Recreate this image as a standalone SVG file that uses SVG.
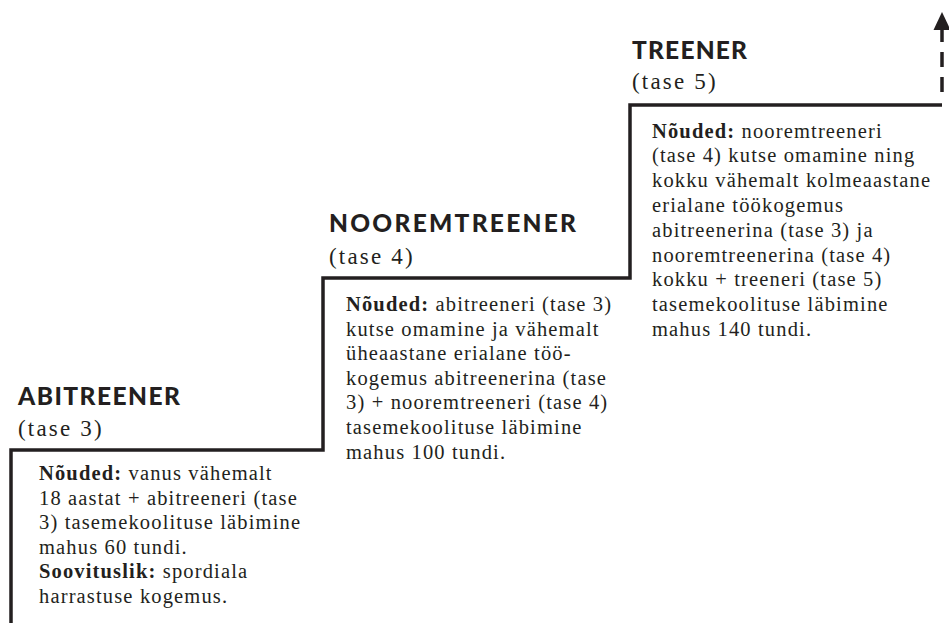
<svg xmlns="http://www.w3.org/2000/svg" width="949" height="623" viewBox="0 0 949 623">
<style>
.title{font-family:Lato,"Open Sans","DejaVu Sans",sans-serif;font-weight:900;font-size:24.5px;fill:#231f20}
.level{font-family:"Liberation Serif","Times New Roman",serif;font-size:23px;letter-spacing:2.2px;fill:#231f20}
.body{font-family:"Liberation Serif","Times New Roman",serif;font-size:20.5px;letter-spacing:1.15px;fill:#231f20}
.b{font-weight:700}
.stair{fill:none;stroke:#231f20;stroke-width:3.5;stroke-linejoin:miter}
</style>
<rect width="949" height="623" fill="#ffffff"/>
<g id="connectors">
<path class="stair" d="M11,623 V450 H323 V278 H630 V105 H942"/>
<line x1="942" y1="92" x2="942" y2="29" stroke="#231f20" stroke-width="3.5" stroke-dasharray="15 10"/>
<polygon points="942,12 933.5,30 950.5,30" fill="#231f20"/>
</g>
<g id="abitreener">
<text class="title" x="18" y="405" textLength="162" lengthAdjust="spacing">ABITREENER</text>
<text class="level" x="18" y="436">(tase 3)</text>
<text class="body" x="39" y="480"><tspan class="b">Nõuded:</tspan> vanus vähemalt</text>
<text class="body" x="39" y="504.6">18 aastat + abitreeneri (tase</text>
<text class="body" x="39" y="529.2">3) tasemekoolituse läbimine</text>
<text class="body" x="39" y="553.8">mahus 60 tundi.</text>
<text class="body" x="39" y="578.4"><tspan class="b">Soovituslik:</tspan> spordiala</text>
<text class="body" x="39" y="603">harrastuse kogemus.</text>
</g>
<g id="nooremtreener">
<text class="title" x="329" y="232" textLength="247" lengthAdjust="spacing">NOOREMTREENER</text>
<text class="level" x="329" y="263.5">(tase 4)</text>
<text class="body" x="346" y="311"><tspan class="b">Nõuded:</tspan> abitreeneri (tase 3)</text>
<text class="body" x="346" y="335.6">kutse omamine ja vähemalt</text>
<text class="body" x="346" y="360.2">üheaastane erialane töö-</text>
<text class="body" x="346" y="384.8">kogemus abitreenerina (tase</text>
<text class="body" x="346" y="409.4">3) + nooremtreeneri (tase 4)</text>
<text class="body" x="346" y="434">tasemekoolituse läbimine</text>
<text class="body" x="346" y="458.6">mahus 100 tundi.</text>
</g>
<g id="treener">
<text class="title" x="632" y="59" textLength="115" lengthAdjust="spacing">TREENER</text>
<text class="level" x="632" y="89">(tase 5)</text>
<text class="body" x="652" y="137.5"><tspan class="b">Nõuded:</tspan> nooremtreeneri</text>
<text class="body" x="652" y="162.3">(tase 4) kutse omamine ning</text>
<text class="body" x="652" y="187.1">kokku vähemalt kolmeaastane</text>
<text class="body" x="652" y="211.9">erialane töökogemus</text>
<text class="body" x="652" y="236.7">abitreenerina (tase 3) ja</text>
<text class="body" x="652" y="261.5">nooremtreenerina (tase 4)</text>
<text class="body" x="652" y="286.3">kokku + treeneri (tase 5)</text>
<text class="body" x="652" y="311.1">tasemekoolituse läbimine</text>
<text class="body" x="652" y="335.9">mahus 140 tundi.</text>
</g>
</svg>
